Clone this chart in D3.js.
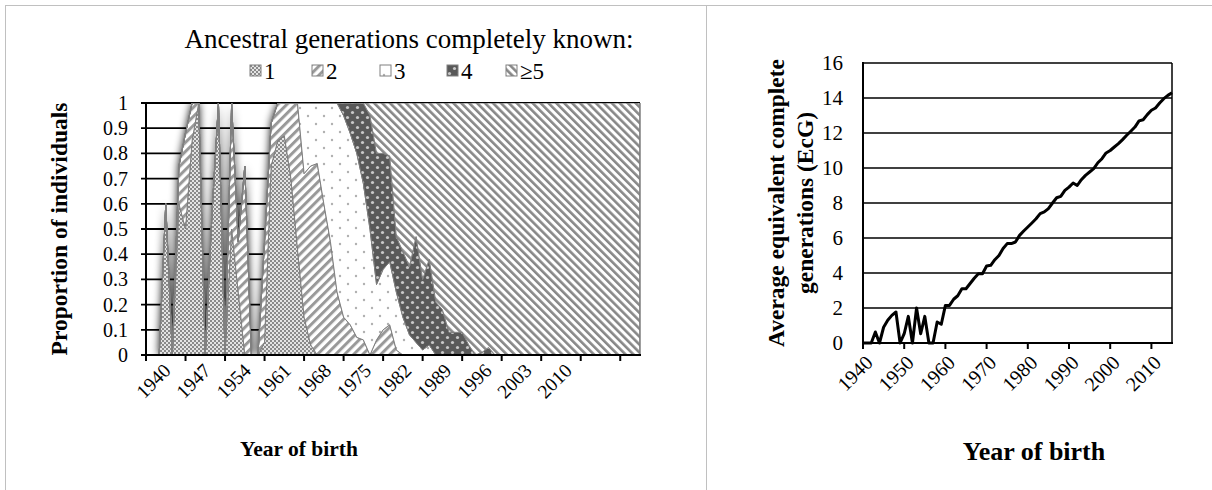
<!DOCTYPE html>
<html><head><meta charset="utf-8">
<script src="https://cdn.jsdelivr.net/npm/d3@7"></script>
<style>
body{margin:0;background:#fff}
svg{display:block}
text{font-family:"Liberation Serif","Times New Roman",serif;fill:#000}
</style>
</head><body>
<svg id="c" width="1212" height="490"></svg>
<script>
// ---------- DATA ----------
// categories: years of birth 1940..2015
const years = d3.range(1940, 2016);
// proportion of individuals by number of completely known ancestral generations
const gen1 = [0,0,0,.6,0,.6,.5,.85,1,0,            // 1940s
              .55,1,0,.5,.25,0,0,0,.05,.75,        // 1950s
              .85,.87,.7,.42,.15,.04,0,0,0,0,      // 1960s
              0,0,0,0,0,0,0,0,0,0,                 // 1970s
              0,0,0,0,0,0,0,0,0,0,                 // 1980s
              0,0,0,0,0,0,0,0,0,0,                 // 1990s
              0,0,0,0,0,0,0,0,0,0,                 // 2000s
              0,0,0,0,0,0];                        // 2010s
const gen2 = [0,0,0,0,0,.15,.38,.15,0,0,
              0,0,0,.5,.2,.75,0,0,.4,.17,
              .15,.13,.3,.58,.57,.71,.76,.6,.45,.25,
              .15,.12,.07,.06,0,.06,.1,.12,.02,0,
              0,0,0,0,0,0,0,0,0,0,
              0,0,0,0,0,0,0,0,0,0,
              0,0,0,0,0,0,0,0,0,0,
              0,0,0,0,0,0];
const gen3 = [0,0,0,0,0,0,0,0,0,0,
              0,0,0,0,0,0,0,0,0,0,
              0,0,0,0,.28,.25,.24,.4,.55,.75,
              .8,.76,.73,.62,.5,.22,.24,.25,.23,.15,
              .08,.05,.02,.04,0,0,0,0,0,0,
              0,0,0,0,0,0,0,0,0,0,
              0,0,0,0,0,0,0,0,0,0,
              0,0,0,0,0,0];
const gen4 = [0,0,0,0,0,0,0,0,0,0,
              0,0,0,0,0,0,0,0,0,0,
              0,0,0,0,0,0,0,0,0,0,
              .05,.12,.2,.32,.45,.52,.46,.42,.22,.26,
              .27,.42,.28,.34,.21,.18,.09,.09,.09,.04,
              0,.01,.03,0,0,0,0,0,0,0,
              0,0,0,0,0,0,0,0,0,0,
              0,0,0,0,0,0];
const gen5 = [0,0,0,0,0,0,0,0,0,0,
              0,0,0,0,0,0,0,0,0,0,
              0,0,0,0,0,0,0,0,0,0,
              0,0,0,0,.05,.2,.2,.21,.53,.59,
              .65,.53,.7,.62,.79,.82,.91,.91,.91,.96,
              1,.99,.97,1,1,1,1,1,1,1,
              1,1,1,1,1,1,1,1,1,1,
              1,1,1,1,1,1];
const seriesNames = ["1","2","3","4","\u22655"];
const xTickLabelsL = ["1940","1947","1954","1961","1968","1975","1982","1989","1996","2003","2010"];
const yTicksL = [0,0.1,0.2,0.3,0.4,0.5,0.6,0.7,0.8,0.9,1];
// average equivalent complete generations
const ecg = [0,0,0,.63,0,.9,1.3,1.58,1.77,0,
             .53,1.52,0,2.0,.53,1.52,0,0,1.2,1.07,
             2.15,2.15,2.5,2.7,3.1,3.1,3.4,3.7,3.96,3.96,
             4.4,4.44,4.76,5.0,5.4,5.68,5.68,5.77,6.15,6.4,
             6.63,6.86,7.1,7.39,7.49,7.68,8.0,8.3,8.38,8.72,
             8.91,9.14,9.0,9.33,9.58,9.77,9.96,10.3,10.53,10.86,
             11.0,11.2,11.39,11.62,11.87,12.1,12.34,12.69,12.76,13.05,
             13.3,13.43,13.71,13.96,14.15,14.3];
const xTicksR = [1940,1950,1960,1970,1980,1990,2000,2010];
const yTicksR = [0,2,4,6,8,10,12,14,16];

// ---------- SETUP ----------
const svg = d3.select("#c");
const defs = svg.append("defs");

function stripes(id, angle, period, stroke, color){
  const p = defs.append("pattern").attr("id",id).attr("patternUnits","userSpaceOnUse")
    .attr("width",period).attr("height",period).attr("patternTransform",`rotate(${angle})`);
  p.append("rect").attr("width",period).attr("height",period).attr("fill","#fff");
  p.append("rect").attr("width",stroke).attr("height",period).attr("fill",color);
}
// 1: fine checker
const p1 = defs.append("pattern").attr("id","p1").attr("patternUnits","userSpaceOnUse").attr("width",4).attr("height",4);
p1.append("rect").attr("width",4).attr("height",4).attr("fill","#8a8a8a");
p1.append("rect").attr("width",2).attr("height",2).attr("fill","#e4e4e4");
p1.append("rect").attr("x",2).attr("y",2).attr("width",2).attr("height",2).attr("fill","#e4e4e4");
// 2: wide upward diagonal
stripes("p2", 45, 6.4, 3.0, "#999");
// 3: white with sparse dots
const p3 = defs.append("pattern").attr("id","p3").attr("patternUnits","userSpaceOnUse").attr("width",16).attr("height",16);
p3.append("rect").attr("width",16).attr("height",16).attr("fill","#fff");
p3.append("circle").attr("cx",4).attr("cy",4).attr("r",1.2).attr("fill","#b0b0b0");
p3.append("circle").attr("cx",12).attr("cy",12).attr("r",1.2).attr("fill","#b0b0b0");
// 4: dark with light dots
const p4 = defs.append("pattern").attr("id","p4").attr("patternUnits","userSpaceOnUse").attr("width",10).attr("height",10);
p4.append("rect").attr("width",10).attr("height",10).attr("fill","#595959");
p4.append("circle").attr("cx",2.5).attr("cy",2.5).attr("r",1.6).attr("fill","#c8c8c8");
p4.append("circle").attr("cx",7.5).attr("cy",7.5).attr("r",1.6).attr("fill","#c8c8c8");
// 5: narrow downward diagonal
stripes("p5", -45, 5.6, 2.6, "#888");
const fills = ["url(#p1)","url(#p2)","url(#p3)","url(#p4)","url(#p5)"];

const glow = defs.append("filter").attr("id","glow").attr("x","-20%").attr("y","-20%").attr("width","140%").attr("height","140%");
glow.append("feGaussianBlur").attr("stdDeviation",4.2);

// panel frame
const frame = svg.append("g").attr("stroke","#c0c0c0").attr("stroke-width",1);
frame.append("line").attr("x1",5).attr("x2",1212).attr("y1",5.5).attr("y2",5.5);
frame.append("line").attr("x1",5.5).attr("x2",5.5).attr("y1",5).attr("y2",490);
frame.append("line").attr("x1",706.5).attr("x2",706.5).attr("y1",5).attr("y2",490);

// ---------- LEFT CHART ----------
const L = {x0:146, x1:640, y0:103, y1:355};
const xL = d3.scalePoint().domain(years).range([L.x0, L.x1]);
const yL = d3.scaleLinear().domain([0,1]).range([L.y1, L.y0]);
const rows = years.map((y,i)=>({year:y, s0:gen1[i], s1:gen2[i], s2:gen3[i], s3:gen4[i], s4:gen5[i]}));
const keys = ["s0","s1","s2","s3","s4"];
const stacked = d3.stack().keys(keys)(rows);

defs.append("clipPath").attr("id","clipL").append("rect")
  .attr("x",L.x0).attr("y",L.y0).attr("width",L.x1-L.x0).attr("height",L.y1-L.y0);

const gL = svg.append("g");
// glow / shadow of the stack
const totalArea = d3.area().x(d=>xL(d.data.year)).y0(yL(0)).y1(d=>yL(d[1]));
gL.append("g").attr("clip-path","url(#clipL)")
  .append("path").datum(stacked[4]).attr("d",totalArea)
  .attr("fill","#000").attr("opacity",1).attr("filter","url(#glow)");

// gridlines
gL.append("g").selectAll("line").data(yTicksL.filter(v=>v>0)).join("line")
  .attr("x1",L.x0-5).attr("x2",L.x1).attr("y1",d=>yL(d)).attr("y2",d=>yL(d))
  .attr("stroke","#000").attr("stroke-width",1.8);

// stacked areas
const area = d3.area().x(d=>xL(d.data.year)).y0(d=>yL(d[0])).y1(d=>yL(d[1]));
gL.append("g").attr("clip-path","url(#clipL)").selectAll("path").data(stacked).join("path")
  .attr("d",area).attr("fill",(d,i)=>fills[i]).attr("stroke","#808080").attr("stroke-width",1)
  .attr("stroke-linejoin","miter");

// plot right border
gL.append("line").attr("x1",L.x1).attr("x2",L.x1).attr("y1",L.y0).attr("y2",L.y1)
  .attr("stroke","#7f7f7f").attr("stroke-width",1.5);

// axes
gL.append("line").attr("x1",L.x0).attr("x2",L.x0).attr("y1",L.y0-1).attr("y2",L.y1+1)
  .attr("stroke","#000").attr("stroke-width",2);
gL.append("line").attr("x1",L.x0-5).attr("x2",L.x1+1).attr("y1",L.y1).attr("y2",L.y1)
  .attr("stroke","#000").attr("stroke-width",2);
// x tick marks (every 6 categories)
const tickIdx = d3.range(0, years.length, 6);
gL.append("g").selectAll("line").data(tickIdx).join("line")
  .attr("x1",i=>xL(years[i])).attr("x2",i=>xL(years[i])).attr("y1",L.y1).attr("y2",L.y1+6)
  .attr("stroke","#000").attr("stroke-width",2);
// x labels
gL.append("g").selectAll("text").data(xTickLabelsL).join("text")
  .attr("transform",(d,k)=>`translate(${xL(years[tickIdx[k]])+21+0.6*k},${L.y1+12}) rotate(-45)`)
  .attr("text-anchor","end").attr("dy","0.35em").attr("font-size",19.5).text(d=>d);
// y labels
gL.append("g").selectAll("text").data(yTicksL).join("text")
  .attr("x",L.x0-18).attr("y",d=>yL(d)).attr("dy","0.35em").attr("text-anchor","end")
  .attr("font-size",20).text(d=>String(d));
// titles
svg.append("text").attr("transform",`translate(67,${(L.y0+L.y1)/2}) rotate(-90)`)
  .attr("text-anchor","middle").attr("font-weight","bold").attr("font-size",23.5)
  .text("Proportion of individuals");
svg.append("text").attr("x",299).attr("y",456).attr("text-anchor","middle")
  .attr("font-weight","bold").attr("font-size",21.5).text("Year of birth");
// legend
svg.append("text").attr("x",409).attr("y",48).attr("text-anchor","middle")
  .attr("font-size",27).text("Ancestral generations completely known:");
const legX = [250, 312, 380, 447, 506];
const leg = svg.append("g").selectAll("g").data(seriesNames).join("g")
  .attr("transform",(d,i)=>`translate(${legX[i]},71)`);
leg.append("rect").attr("x",0).attr("y",-6).attr("width",11).attr("height",11)
  .attr("fill",(d,i)=>fills[i]).attr("stroke","#808080").attr("stroke-width",1);
leg.append("text").attr("x",14).attr("y",0).attr("dy","0.35em").attr("font-size",23).text(d=>d);

// ---------- RIGHT CHART ----------
const R = {x0:863, x1:1172, y0:63, y1:343};
const xR = d3.scaleLinear().domain([1940,2015]).range([R.x0,R.x1]);
const yR = d3.scaleLinear().domain([0,16]).range([R.y1,R.y0]);
const gR = svg.append("g");
gR.append("g").selectAll("line").data(yTicksR.filter(v=>v>0)).join("line")
  .attr("x1",R.x0).attr("x2",R.x1).attr("y1",d=>yR(d)).attr("y2",d=>yR(d))
  .attr("stroke","#000").attr("stroke-width",1.5);
gR.append("line").attr("x1",R.x1).attr("x2",R.x1).attr("y1",R.y0).attr("y2",R.y1)
  .attr("stroke","#000").attr("stroke-width",1.5);
gR.append("line").attr("x1",R.x0).attr("x2",R.x0).attr("y1",R.y0-1).attr("y2",R.y1+1)
  .attr("stroke","#000").attr("stroke-width",2);
gR.append("line").attr("x1",R.x0).attr("x2",R.x1+1).attr("y1",R.y1).attr("y2",R.y1)
  .attr("stroke","#000").attr("stroke-width",2);
gR.append("g").selectAll("line").data(xTicksR).join("line")
  .attr("x1",d=>xR(d)).attr("x2",d=>xR(d)).attr("y1",R.y1).attr("y2",R.y1+6)
  .attr("stroke","#000").attr("stroke-width",2);
gR.append("g").selectAll("text").data(xTicksR).join("text")
  .attr("transform",d=>`translate(${xR(d)+6},${R.y1+16}) rotate(-45)`)
  .attr("text-anchor","end").attr("dy","0.35em").attr("font-size",20).text(d=>d);
gR.append("g").selectAll("text").data(yTicksR).join("text")
  .attr("x",R.x0-20).attr("y",d=>yR(d)).attr("dy","0.35em").attr("text-anchor","end")
  .attr("font-size",21).text(d=>d);
const line = d3.line().x((d,i)=>xR(years[i])).y(d=>yR(d));
gR.append("path").datum(ecg).attr("d",line).attr("fill","none")
  .attr("stroke","#000").attr("stroke-width",3).attr("stroke-linejoin","round");
const ty = svg.append("text").attr("transform",`translate(792,${(R.y0+R.y1)/2}) rotate(-90)`)
  .attr("text-anchor","middle").attr("font-weight","bold").attr("font-size",23.5);
ty.append("tspan").attr("x",0).attr("dy","-0.35em").text("Average equivalent complete");
ty.append("tspan").attr("x",0).attr("dy","1.25em").text("generations (EcG)");
svg.append("text").attr("x",1034).attr("y",460).attr("text-anchor","middle")
  .attr("font-weight","bold").attr("font-size",26).text("Year of birth");
</script>
</body></html>
